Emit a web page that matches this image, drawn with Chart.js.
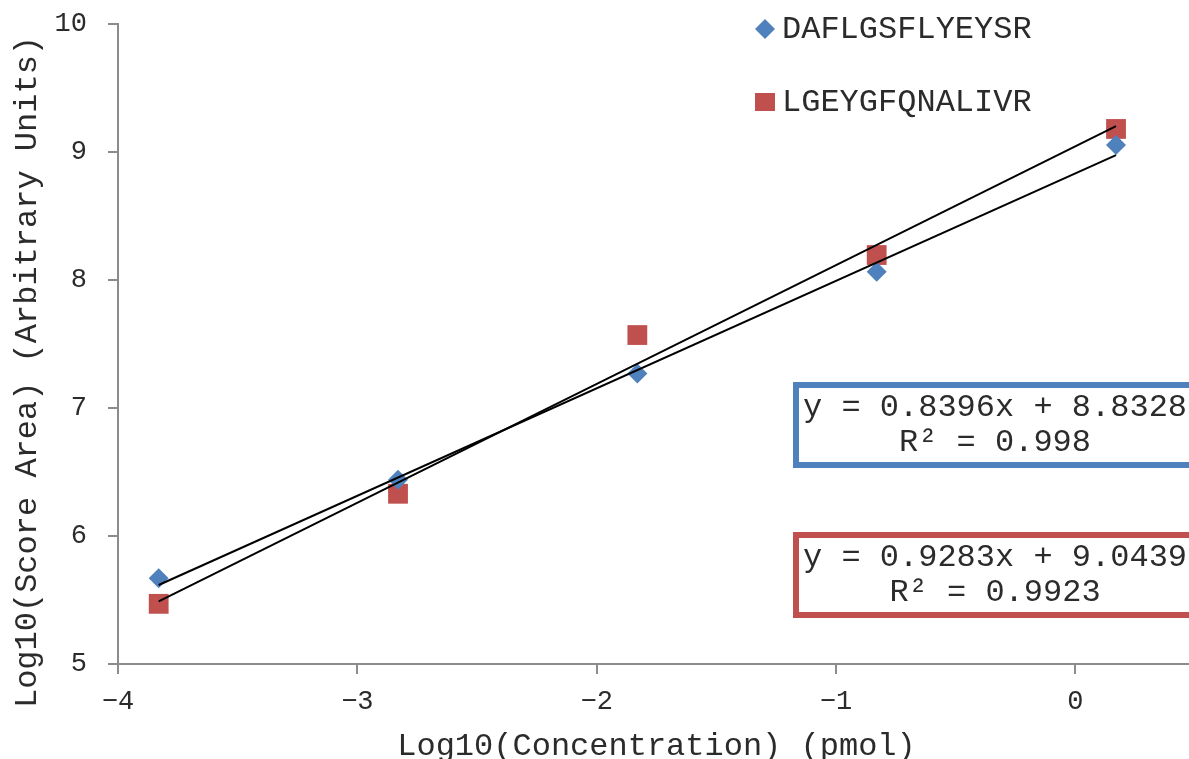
<!DOCTYPE html>
<html>
<head>
<meta charset="utf-8">
<title>Peptide calibration</title>
<script src="https://cdn.jsdelivr.net/npm/chart.js@4/dist/chart.umd.min.js"></script>
<style>
    html, body { margin: 0; padding: 0; background: #fff; overflow: hidden; }
    #calChart { display: block; }
</style>
</head>
<body>
<canvas id="calChart" width="1200" height="775"></canvas>
<script>
// log10 of the loaded amount (pmol)
const concLog = [-3.83, -2.83, -1.83, -0.83, 0.17];

// log10 of the score area per peptide
const peptideNames = ["DAFLGSFLYEYSR", "LGEYGFQNALIVR"];
const dafScore = [5.67, 6.44, 7.27, 8.065, 9.055];
const lgeScore = [5.47, 6.33, 7.57, 8.195, 9.18];

// least squares fits as reported
const fitSlope = [0.8396, 0.9283];
const fitIntercept = [8.8328, 9.0439];
const fitR2 = ["0.998", "0.9923"];

const xTicks = [-4, -3, -2, -1, 0];
const yTicks = [5, 6, 7, 8, 9, 10];

const xTitle = "Log10(Concentration) (pmol)";
const yTitle = "Log10(Score Area) (Arbitrary Units)";

const BLUE = "#4F81BD";
const RED = "#C0504D";
const AXIS = "#8c8c8c";
const TEXT = "#2b2b2b";
const MONO = "'Liberation Mono', 'Courier New', monospace";

Chart.defaults.font.family = MONO;
Chart.defaults.color = TEXT;

function points(ys) {
    return concLog.map((x, i) => ({ x: x, y: ys[i] }));
}

function fitLine(k) {
    let x0 = concLog[0], x1 = concLog[concLog.length - 1];
    return [
        { x: x0, y: fitSlope[k] * x0 + fitIntercept[k] },
        { x: x1, y: fitSlope[k] * x1 + fitIntercept[k] }
    ];
}

const seriesColors = [BLUE, RED];
const seriesStyles = ["rectRot", "rect"];

// legend in the top right corner, two rows
const cornerLegend = {
    id: "cornerLegend",
    afterDraw(chart) {
        let ctx = chart.ctx;
        ctx.save();
        ctx.font = "32px " + MONO;
        ctx.textBaseline = "middle";
        peptideNames.forEach((name, i) => {
            let cx = 765, cy = i == 0 ? 29 : 102;
            ctx.fillStyle = seriesColors[i];
            ctx.beginPath();
            if (seriesStyles[i] == "rectRot") {
                ctx.moveTo(cx, cy - 10);
                ctx.lineTo(cx + 10, cy);
                ctx.lineTo(cx, cy + 10);
                ctx.lineTo(cx - 10, cy);
                ctx.closePath();
            } else {
                ctx.rect(cx - 10, cy - 9, 20, 18);
            }
            ctx.fill();
            ctx.fillStyle = TEXT;
            ctx.fillText(name, 782, cy + 1);
        });
        ctx.restore();
    }
};

// boxed fit equations
const fitBoxes = {
    id: "fitBoxes",
    afterDraw(chart) {
        let ctx = chart.ctx;
        let area = chart.chartArea;
        let cx = area.right - 200;
        let tops = [382, 532];
        ctx.save();
        ctx.font = "32px " + MONO;
        ctx.textAlign = "center";
        ctx.textBaseline = "middle";
        fitSlope.forEach((s, i) => {
            let top = tops[i];
            ctx.strokeStyle = seriesColors[i];
            ctx.lineWidth = 6;
            ctx.strokeRect(cx - 199, top + 3, 398, 80);
            ctx.fillStyle = TEXT;
            ctx.fillText("y = " + s + "x + " + fitIntercept[i], cx, top + 26);
            ctx.fillText("R\u00B2 = " + fitR2[i], cx, top + 61);
        });
        ctx.restore();
    }
};

// vertical axis title, sits a bit below the plot centre
const sideTitle = {
    id: "sideTitle",
    afterDraw(chart) {
        let ctx = chart.ctx;
        let area = chart.chartArea;
        ctx.save();
        ctx.translate(28, (area.top + area.bottom) / 2 + 28);
        ctx.rotate(-Math.PI / 2);
        ctx.font = "32px " + MONO;
        ctx.fillStyle = TEXT;
        ctx.textAlign = "center";
        ctx.textBaseline = "middle";
        ctx.fillText(yTitle, 0, 0);
        ctx.restore();
    }
};

window.onload = () => {
    let ctx = document.getElementById("calChart").getContext("2d");
    new Chart(ctx, {
        type: "scatter",
        data: {
            datasets: [
                { type: "line", data: fitLine(0), borderColor: "#000", borderWidth: 2, pointRadius: 0, fill: false, order: 0 },
                { type: "line", data: fitLine(1), borderColor: "#000", borderWidth: 2, pointRadius: 0, fill: false, order: 0 },
                { label: peptideNames[0], data: points(dafScore), pointStyle: "rectRot", pointRadius: 10, backgroundColor: BLUE, borderWidth: 0, order: 1 },
                { label: peptideNames[1], data: points(lgeScore), pointStyle: "rect", pointRadius: 14, backgroundColor: RED, borderWidth: 0, order: 1 }
            ]
        },
        options: {
            responsive: false,
            animation: false,
            layout: { autoPadding: false, padding: { top: 24, right: 5, left: 0, bottom: 0 } },
            plugins: {
                legend: { display: false },
                tooltip: { enabled: false }
            },
            scales: {
                x: {
                    type: "linear",
                    min: -4,
                    max: 0.5,
                    afterBuildTicks: (axis) => {
                        axis.ticks = xTicks.map(v => ({ value: v }));
                    },
                    afterFit: (scale) => { scale.height = 111; },
                    ticks: {
                        font: { size: 27 },
                        padding: 12,
                        callback: (v) => (v < 0 ? "\u2212" + Math.abs(v) : String(v))
                    },
                    grid: { drawOnChartArea: false, drawTicks: true, tickLength: 10, color: AXIS, lineWidth: 2 },
                    border: { color: AXIS, width: 2 },
                    title: {
                        display: true,
                        text: xTitle,
                        font: { size: 32, lineHeight: 1 },
                        padding: { top: 0, bottom: 12 }
                    }
                },
                y: {
                    min: 5,
                    max: 10,
                    afterBuildTicks: (axis) => {
                        axis.ticks = yTicks.map(v => ({ value: v }));
                    },
                    afterFit: (scale) => { scale.width = 118; },
                    // small lineHeight keeps the top label from pushing the plot down
                    ticks: { font: { size: 27, lineHeight: 0.2 }, padding: 21 },
                    grid: { drawOnChartArea: false, drawTicks: true, tickLength: 10, color: AXIS, lineWidth: 2 },
                    border: { color: AXIS, width: 2 },
                    title: { display: false }
                }
            }
        },
        plugins: [cornerLegend, fitBoxes, sideTitle]
    });
};
</script>
</body>
</html>
